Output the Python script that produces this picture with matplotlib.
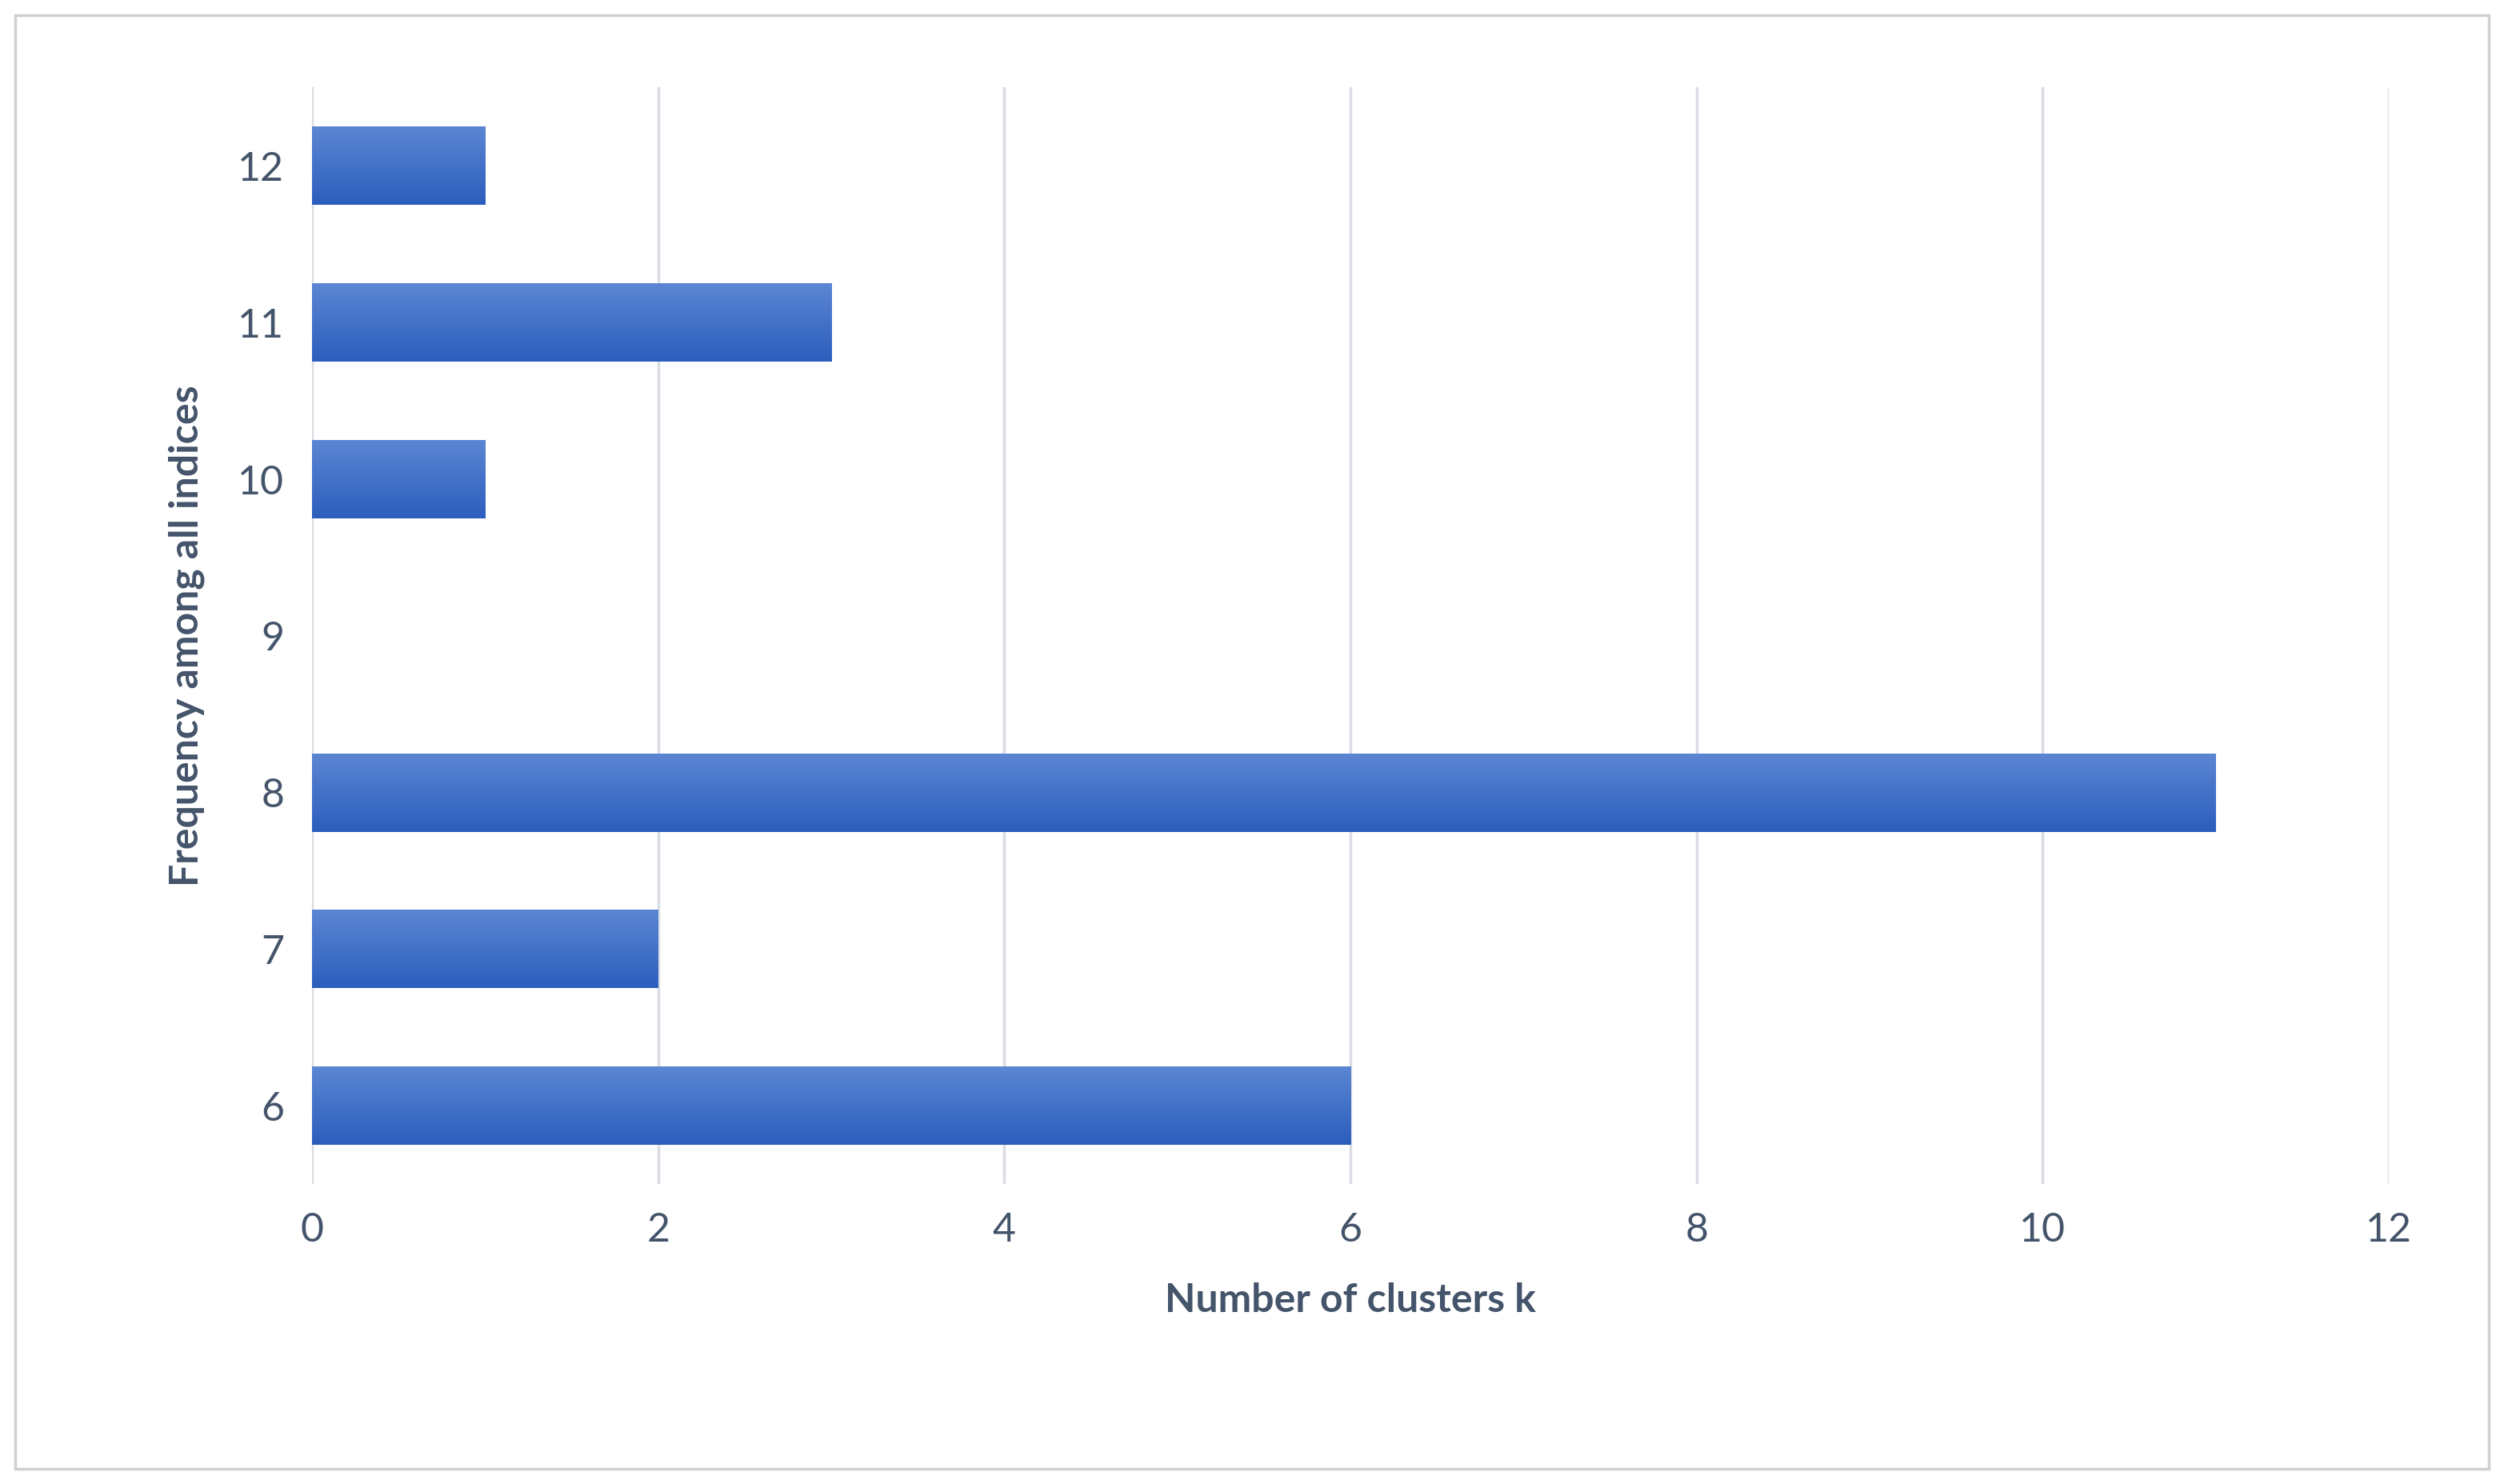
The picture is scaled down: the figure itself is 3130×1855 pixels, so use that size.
import matplotlib
matplotlib.use("Agg")
import matplotlib.pyplot as plt
import numpy as np
from matplotlib.patches import Rectangle

categories = ["6", "7", "8", "9", "10", "11", "12"]
values = [6, 2, 11, 0, 1, 3, 1]
xticks = [0, 2, 4, 6, 8, 10, 12]

plt.rcParams['font.family'] = ['Lato', 'DejaVu Sans']
txt = '#44546a'
fig = plt.figure(figsize=(31.3, 18.55), dpi=100)
fig.patches.append(Rectangle((0.006, 0.01), 0.988, 0.98, transform=fig.transFigure,
                             fill=False, edgecolor='#d0d0d0', linewidth=2.5))
ax = fig.add_axes([0.1246, 0.202, 0.8294, 0.739])
ypos = np.arange(len(categories))
h = 0.5
grad = np.linspace(0, 1, 100).reshape(-1, 1)
from matplotlib.colors import LinearSegmentedColormap
cmap = LinearSegmentedColormap.from_list('g', ['#2c5ebd', '#5b86d3'])
for y, v in zip(ypos, values):
    if v > 0:
        ax.imshow(grad, extent=[0, v, y - h / 2, y + h / 2], origin='lower',
                  aspect='auto', cmap=cmap, zorder=3)
ax.set_xlim(0, 12)
ax.set_ylim(-0.5, len(categories) - 0.5)
ax.set_xticks(xticks)
ax.set_yticks(ypos)
ax.set_yticklabels(categories)
for s in ax.spines.values():
    s.set_visible(False)
ax.grid(axis='x', color='#d9dde3', linewidth=2.5, zorder=0)
ax.set_axisbelow(True)
ax.tick_params(length=0, labelsize=36, labelcolor=txt, pad=25)
ax.set_xlabel("Number of clusters k", fontsize=36, fontweight='bold', color=txt, labelpad=30)
ax.set_ylabel("Frequency among all indices", fontsize=36, fontweight='bold', color=txt, labelpad=30)
fig.savefig("out.png", dpi=100)
